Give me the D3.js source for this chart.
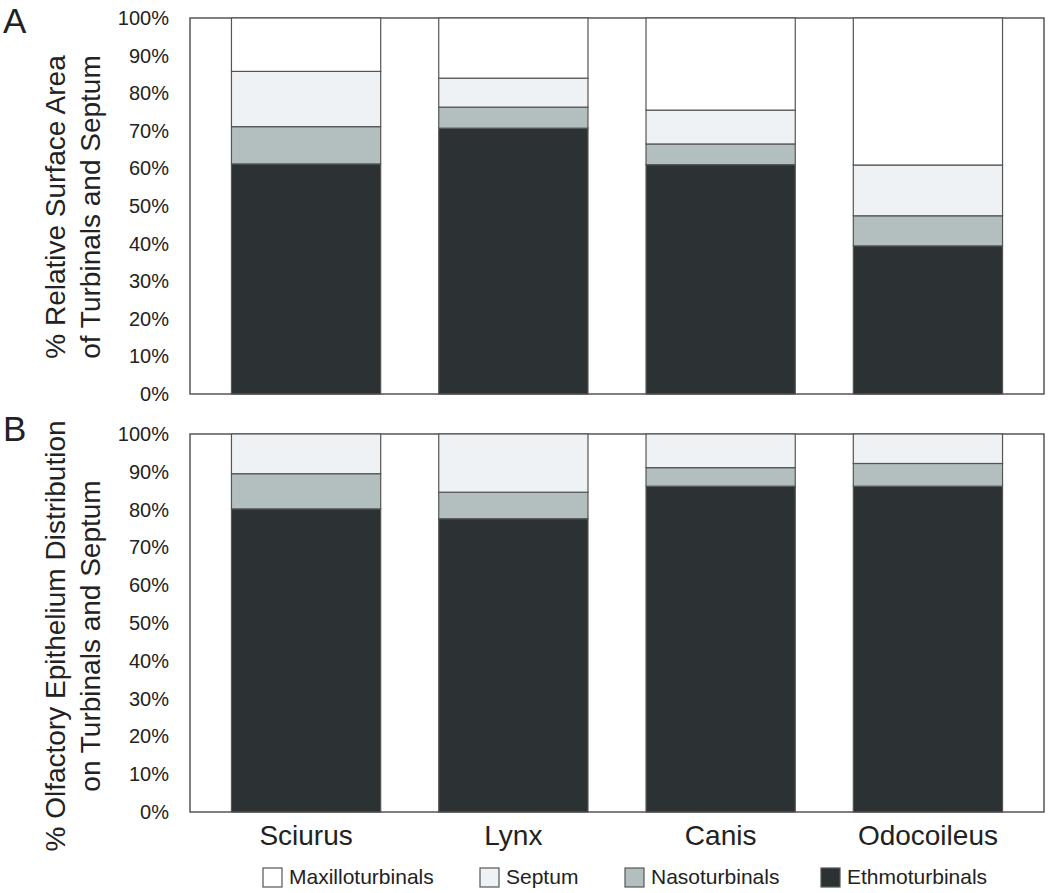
<!DOCTYPE html>
<html>
<head>
<meta charset="utf-8">
<style>
	html, body { margin: 0; padding: 0; background: #fff; }
	svg text { font-family: "Liberation Sans", Arial, sans-serif; fill: #222; }
</style>
</head>
<body>
<script src="https://d3js.org/d3.v7.min.js"></script>
<script>
	// data (percent)
	var genera = ["Sciurus", "Lynx", "Canis", "Odocoileus"];
	var parts = ["Ethmoturbinals", "Nasoturbinals", "Septum", "Maxilloturbinals"];
	var legendOrder = ["Maxilloturbinals", "Septum", "Nasoturbinals", "Ethmoturbinals"];

	// panel A: relative surface area
	var areaEthmo = [61.2, 70.7, 61.0, 39.4];
	var areaNaso = [9.9, 5.6, 5.5, 8.0];
	var areaSeptum = [14.7, 7.7, 9.0, 13.5];
	var areaMaxillo = [14.2, 16.0, 24.5, 39.1];

	// panel B: olfactory epithelium distribution
	var oeEthmo = [80.2, 77.6, 86.2, 86.2];
	var oeNaso = [9.3, 7.0, 4.9, 6.0];
	var oeSeptum = [10.5, 15.4, 8.9, 7.8];
	var oeMaxillo = [0, 0, 0, 0];

	var tickVals = [0, 10, 20, 30, 40, 50, 60, 70, 80, 90, 100];

	var colors = {
		"Ethmoturbinals": "#2c3234",
		"Nasoturbinals": "#b3bfbf",
		"Septum": "#eef2f4",
		"Maxilloturbinals": "#ffffff"
	};

	var svg = d3.select("body").append("svg")
		.attr("width", 1050)
		.attr("height", 893);

	var x = d3.scaleBand().domain(genera).range([190, 1044])
		.paddingInner(0.28).paddingOuter(0.2);

	function rows(e, n, s, m) {
		return genera.map(function(g, i) {
			return { genus: g, Ethmoturbinals: e[i], Nasoturbinals: n[i], Septum: s[i], Maxilloturbinals: m[i] };
		});
	}

	var panels = [
		{ letter: "A", top: 18, bottom: 394, letterY: 33, titleY: 207,
			title: ["% Relative Surface Area", "of Turbinals and Septum"],
			data: rows(areaEthmo, areaNaso, areaSeptum, areaMaxillo) },
		{ letter: "B", top: 434, bottom: 812, letterY: 441, titleY: 636,
			title: ["% Olfactory Epithelium Distribution", "on Turbinals and Septum"],
			data: rows(oeEthmo, oeNaso, oeSeptum, oeMaxillo) }
	];

	var stack = d3.stack().keys(parts);

	panels.forEach(function(p) {
		var y = d3.scaleLinear().domain([0, 100]).range([p.bottom, p.top]);
		var g = svg.append("g");

		// frame
		g.append("rect")
			.attr("x", x.range()[0]).attr("y", p.top)
			.attr("width", x.range()[1] - x.range()[0])
			.attr("height", p.bottom - p.top)
			.attr("fill", "none")
			.attr("stroke", "#555")
			.attr("stroke-width", 1.5);

		var series = stack(p.data);
		g.selectAll("g.layer")
			.data(series)
			.enter().append("g")
			.attr("class", "layer")
			.attr("fill", function(d) { return colors[d.key]; })
			.selectAll("rect")
			.data(function(d) { return d.filter(function(v) { return v[1] - v[0] > 0; }); })
			.enter().append("rect")
			.attr("x", function(d) { return x(d.data.genus); })
			.attr("y", function(d) { return y(d[1]); })
			.attr("width", x.bandwidth())
			.attr("height", function(d) { return y(d[0]) - y(d[1]); })
			.attr("stroke", "#555")
			.attr("stroke-width", 1.2);

		// y axis labels, no ticks
		var ax = g.append("g")
			.attr("transform", "translate(" + (x.range()[0] - 21) + ",0)")
			.call(d3.axisLeft(y).tickValues(tickVals).tickSize(0).tickPadding(0)
				.tickFormat(function(d) { return d + "%"; }));
		ax.select(".domain").remove();
		ax.selectAll("text")
			.attr("font-size", "20px")
			.style("font-family", "'Liberation Sans', Arial, sans-serif")
			.attr("fill", "#222");

		// axis title
		g.selectAll("text.ytitle")
			.data(p.title)
			.enter().append("text")
			.attr("class", "ytitle")
			.attr("transform", function(d, i) {
				return "translate(" + (65 + i * 35) + "," + p.titleY + ") rotate(-90)";
			})
			.attr("text-anchor", "middle")
			.attr("font-size", "28px")
			.text(function(d) { return d; });

		// panel letter
		g.append("text")
			.attr("x", 3).attr("y", p.letterY)
			.attr("font-size", "35px")
			.text(p.letter);
	});

	// genus labels
	svg.selectAll("text.genus")
		.data(genera)
		.enter().append("text")
		.attr("class", "genus")
		.attr("x", function(d) { return x(d) + x.bandwidth() / 2; })
		.attr("y", 845)
		.attr("text-anchor", "middle")
		.attr("font-size", "28px")
		.text(function(d) { return d; });

	// legend
	var legendX = [263, 480, 625, 821];
	var leg = svg.selectAll("g.legend")
		.data(legendOrder)
		.enter().append("g")
		.attr("class", "legend")
		.attr("transform", function(d, i) { return "translate(" + legendX[i] + ",868)"; });
	leg.append("rect")
		.attr("width", 19).attr("height", 19)
		.attr("fill", function(d) { return colors[d]; })
		.attr("stroke", "#555")
		.attr("stroke-width", 1.2);
	leg.append("text")
		.attr("x", 26).attr("y", 16)
		.attr("font-size", "21px")
		.text(function(d) { return d; });
</script>
</body>
</html>
